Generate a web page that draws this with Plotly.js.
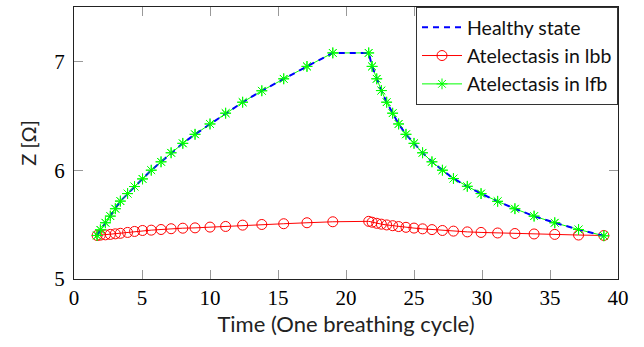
<!DOCTYPE html>
<html>
<head>
<meta charset="utf-8">
<script src="https://cdn.plot.ly/plotly-3.0.1.min.js"></script>
<style>html,body{margin:0;padding:0;background:#fff;}#chart{width:644px;height:347px;}</style>
</head>
<body>
<div id="chart"></div>
<script>
// Time values (one breathing cycle)
const timeValues = [1.70, 1.94, 2.31, 2.67, 3.04, 3.41, 3.94, 4.45, 5.04, 5.68, 6.40, 7.14, 8.00, 8.90, 10.00, 11.15, 12.40, 13.81, 15.42, 17.13, 19.03,
  21.67, 21.92, 22.26, 22.60, 22.99, 23.43, 23.87, 24.41, 25.00, 25.63, 26.32, 27.09, 27.90, 28.92, 29.93, 31.15, 32.42, 33.83, 35.35, 37.10, 38.96];
// Healthy state
const healthyZ = [5.40, 5.452, 5.517, 5.578, 5.646, 5.716, 5.785, 5.850, 5.920, 6.000, 6.077, 6.160, 6.247, 6.330, 6.425, 6.524, 6.625, 6.730, 6.840, 6.954, 7.078,
  7.078, 6.954, 6.840, 6.732, 6.625, 6.524, 6.425, 6.330, 6.247, 6.160, 6.077, 6.000, 5.923, 5.852, 5.785, 5.714, 5.646, 5.578, 5.517, 5.455, 5.397];
// Atelectasis in lbb
const lbbZ = [5.400, 5.403, 5.406, 5.410, 5.415, 5.420, 5.428, 5.437, 5.446, 5.449, 5.455, 5.462, 5.467, 5.470, 5.477, 5.483, 5.495, 5.501, 5.508, 5.517, 5.526,
  5.530, 5.522, 5.512, 5.504, 5.497, 5.490, 5.482, 5.475, 5.468, 5.461, 5.454, 5.446, 5.440, 5.433, 5.428, 5.423, 5.418, 5.414, 5.410, 5.404, 5.400];
// Atelectasis in lfb
const lfbZ = [5.40, 5.452, 5.517, 5.578, 5.646, 5.716, 5.785, 5.850, 5.920, 6.000, 6.077, 6.160, 6.247, 6.330, 6.425, 6.524, 6.625, 6.730, 6.840, 6.954, 7.078,
  7.078, 6.954, 6.840, 6.732, 6.625, 6.524, 6.425, 6.330, 6.247, 6.160, 6.077, 6.000, 5.923, 5.852, 5.785, 5.714, 5.646, 5.578, 5.517, 5.455, 5.397];

const xTicks = [0, 5, 10, 15, 20, 25, 30, 35, 40];
const yTicks = [5, 6, 7];
const seriesNames = ['Healthy state', 'Atelectasis in lbb', 'Atelectasis in lfb'];

const asteriskMarker = {symbol: 'asterisk-open', size: 9, color: '#00ff00', line: {width: 1, color: '#00ff00'}};

const traces = [
  {x: timeValues, y: lbbZ, name: seriesNames[1], mode: 'lines+markers', legendrank: 2,
   line: {color: '#ff0000', width: 1},
   marker: {symbol: 'circle-open', size: 10, color: '#ff0000', line: {width: 1}}},
  {x: timeValues, y: lfbZ, name: seriesNames[2], mode: 'lines+markers', legendrank: 3,
   line: {color: '#00ff00', width: 1}, marker: asteriskMarker},
  {x: timeValues, y: healthyZ, name: seriesNames[0], mode: 'lines', legendrank: 1,
   line: {color: '#0000ff', width: 2, dash: '6px,5px'}},
  {x: timeValues, y: lfbZ, name: seriesNames[2], mode: 'markers', showlegend: false, marker: asteriskMarker}
];

const tickFont = {family: 'Liberation Serif, serif', size: 21, color: '#000'};

const layout = {
  width: 644, height: 347,
  margin: {l: 74, r: 26, t: 7, b: 68},
  paper_bgcolor: '#fff', plot_bgcolor: '#fff',
  showlegend: true,
  legend: {x: 1, xanchor: 'right', y: 1, yanchor: 'top', bgcolor: '#fff',
    bordercolor: '#333', borderwidth: 1, font: {family: 'Lato, sans-serif', size: 19.5, color: '#111'},
    tracegroupgap: 0, itemwidth: 40},
  xaxis: {range: [0, 40], tickvals: xTicks, ticktext: xTicks.map(String), ticks: 'inside', ticklen: 9,
    tickcolor: '#999', tickwidth: 1, showgrid: false, zeroline: false, showline: true, linecolor: '#222',
    linewidth: 1, mirror: 'ticks', tickfont: tickFont,
    title: {text: 'Time (One breathing cycle)', font: {family: 'Lato, sans-serif', size: 22, color: '#222'}, standoff: 7}},
  yaxis: {range: [5, 7.5], tickvals: yTicks, ticktext: yTicks.map(String), ticks: 'inside', ticklen: 9,
    tickcolor: '#999', tickwidth: 1, showgrid: false, zeroline: false, showline: true, linecolor: '#222',
    linewidth: 1, mirror: 'ticks', tickfont: tickFont, ticklabelstandoff: 4,
    title: {text: 'Z [Ω]', font: {family: 'Lato, sans-serif', size: 20, color: '#222'}, standoff: 12}}
};

Plotly.newPlot('chart', traces, layout, {displayModeBar: false, staticPlot: true});
</script>
</body>
</html>
